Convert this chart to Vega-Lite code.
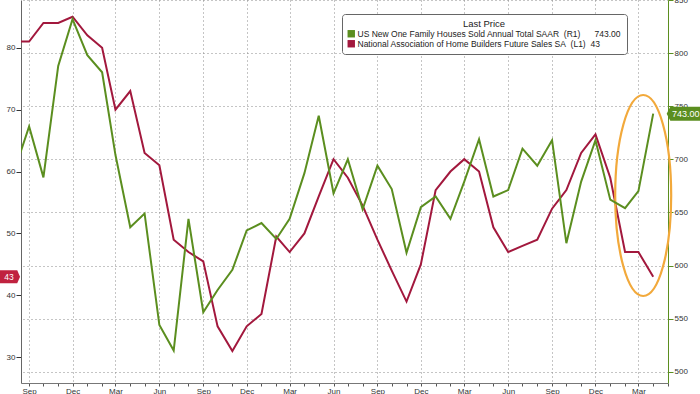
{
  "$schema": "https://vega.github.io/schema/vega-lite/v6.json",
  "width": 647,
  "height": 383,
  "autosize": {"type": "none"},
  "padding": {"left": 21, "top": 0, "right": 32, "bottom": 11},
  "background": "white",
  "config": {"view": {"stroke": null}, "font": "Liberation Sans"},
  "datasets": {
    "tags": [{"name": "nahb", "last": 43, "label": "43"}],
    "tags2": [{"name": "sales", "last": 743, "label": "743.00"}],
    "note": [{"note": "recent divergence"}]
  },
  "data": {"values": [
    {"date": "2021-08-01", "nahb": 81, "sales": 689},
    {"date": "2021-09-01", "nahb": 81, "sales": 731},
    {"date": "2021-10-01", "nahb": 84, "sales": 683},
    {"date": "2021-11-01", "nahb": 84, "sales": 788},
    {"date": "2021-12-01", "nahb": 85, "sales": 832},
    {"date": "2022-01-01", "nahb": 82, "sales": 798},
    {"date": "2022-02-01", "nahb": 80, "sales": 782},
    {"date": "2022-03-01", "nahb": 70, "sales": 704},
    {"date": "2022-04-01", "nahb": 73, "sales": 636},
    {"date": "2022-05-01", "nahb": 63, "sales": 649},
    {"date": "2022-06-01", "nahb": 61, "sales": 544},
    {"date": "2022-07-01", "nahb": 49, "sales": 520},
    {"date": "2022-08-01", "nahb": 47, "sales": 644},
    {"date": "2022-09-01", "nahb": 45.5, "sales": 556},
    {"date": "2022-10-01", "nahb": 35, "sales": 577},
    {"date": "2022-11-01", "nahb": 31, "sales": 596},
    {"date": "2022-12-01", "nahb": 35, "sales": 633},
    {"date": "2023-01-01", "nahb": 37, "sales": 640},
    {"date": "2023-02-01", "nahb": 49.5, "sales": 625},
    {"date": "2023-03-01", "nahb": 47, "sales": 644},
    {"date": "2023-04-01", "nahb": 50, "sales": 687},
    {"date": "2023-05-01", "nahb": 56, "sales": 741},
    {"date": "2023-06-01", "nahb": 62, "sales": 668},
    {"date": "2023-07-01", "nahb": 59, "sales": 700},
    {"date": "2023-08-01", "nahb": 54.5, "sales": 653},
    {"date": "2023-09-01", "nahb": 49, "sales": 694},
    {"date": "2023-10-01", "nahb": 44, "sales": 672},
    {"date": "2023-11-01", "nahb": 39, "sales": 612},
    {"date": "2023-12-01", "nahb": 45, "sales": 655},
    {"date": "2024-01-01", "nahb": 57, "sales": 665},
    {"date": "2024-02-01", "nahb": 60, "sales": 644},
    {"date": "2024-03-01", "nahb": 62, "sales": 679},
    {"date": "2024-04-01", "nahb": 60, "sales": 719},
    {"date": "2024-05-01", "nahb": 51, "sales": 665},
    {"date": "2024-06-01", "nahb": 47, "sales": 671},
    {"date": "2024-07-01", "nahb": 48, "sales": 710},
    {"date": "2024-08-01", "nahb": 49, "sales": 694},
    {"date": "2024-09-01", "nahb": 54, "sales": 718},
    {"date": "2024-10-01", "nahb": 57, "sales": 621},
    {"date": "2024-11-01", "nahb": 63, "sales": 679},
    {"date": "2024-12-01", "nahb": 66, "sales": 718},
    {"date": "2025-01-01", "nahb": 59, "sales": 662},
    {"date": "2025-02-01", "nahb": 47, "sales": 654},
    {"date": "2025-03-01", "nahb": 47, "sales": 670},
    {"date": "2025-04-01", "nahb": 43, "sales": 743}
  ]},
  "layer": [
    {
      "layer": [
        {
          "mark": {"type": "line", "strokeWidth": 2, "clip": true},
          "encoding": {
            "x": {
              "field": "date",
              "type": "temporal",
              "scale": {
                "type": "utc",
                "domain": [1628985600000, 1746144000000]
              },
              "axis": {
                "title": null,
                "tickCount": {"interval": "month", "step": 1},
                "labelExpr": "utcmonth(datum.value) % 3 === 2 ? utcFormat(datum.value, '%b') : ''",
                "labelOverlap": false,
                "labelFlush": false,
                "grid": true,
                "gridDash": [1, 3],
                "gridColor": "#8a8a8a",
                "gridOpacity": {"condition": {"test": "utcmonth(datum.value) % 3 === 2", "value": 1}, "value": 0},
                "tickSize": 3,
                "tickColor": "#555555",
                "domainColor": "#777777",
                "labelFontSize": 8,
                "labelColor": "#333333",
                "labelPadding": 1
              }
            },
            "y": {
              "field": "nahb",
              "type": "quantitative",
              "scale": {"domain": [25.85, 87.7], "nice": false, "zero": false},
              "axis": {
                "orient": "left",
                "title": null,
                "values": [30, 35, 40, 45, 50, 55, 60, 65, 70, 75, 80, 85],
                "labelExpr": "datum.value % 10 === 0 ? datum.label : ''",
                "grid": false,
                "tickSize": {"condition": {"test": "datum.value % 10 === 0", "value": 5}, "value": 3},
                "tickColor": "#333333",
                "domainColor": "#666666",
                "labelColor": "#333333",
                "labelFontSize": 8,
                "labelPadding": 1
              }
            },
            "color": {
              "datum": "National Association of Home Builders Future Sales SA\u00a0\u00a0(L1)",
              "type": "nominal",
              "scale": {
                "domain": [
                  "US New One Family Houses Sold Annual Total SAAR\u00a0\u00a0(R1)",
                  "National Association of Home Builders Future Sales SA\u00a0\u00a0(L1)"
                ],
                "range": ["#5b8e1f", "#a2183d"]
              },
              "legend": {
                "orient": "none",
                "legendX": 321,
                "legendY": 14,
                "title": "Last Price",
                "titleAnchor": "middle",
                "titleFontSize": 9.5,
                "titleFontWeight": "normal",
                "titleColor": "#222222",
                "titlePadding": 1,
                "labelFontSize": 8.5,
                "labelColor": "#222222",
                "labelLimit": 500,
                "labelOffset": 2,
                "labelExpr": "indexof(datum.label, '(R1)') >= 0 ? datum.label + '\u00a0\u00a0\u00a0\u00a0\u00a0\u00a0743.00' : datum.label + '\u00a0\u00a043'",
                "symbolType": "square",
                "symbolSize": 55,
                "symbolStrokeWidth": 0,
                "rowPadding": 1,
                "padding": 5,
                "fillColor": "white",
                "strokeColor": "#666666",
                "cornerRadius": 3,
                "encode": {"symbols": {"update": {"fill": {"scale": "color", "field": "value"}, "opacity": {"value": 1}}}}
              }
            }
          }
        },
        {
          "data": {"name": "note"},
          "mark": {
            "type": "point",
            "shape": "M -0.2786 0 A 0.2786 1 0 1 1 0.2786 0 A 0.2786 1 0 1 1 -0.2786 0 Z",
            "size": 40401,
            "filled": false,
            "stroke": "#f2a93b",
            "strokeWidth": 2.2,
            "opacity": 1
          },
          "encoding": {
            "x": {"datum": 1741651200000, "type": "temporal"},
            "y": {"datum": 56.13, "type": "quantitative"}
          }
        },
        {
          "data": {"name": "tags"},
          "mark": {
            "type": "point",
            "shape": "M -1 -0.65 L 0.72 -0.65 L 1 0 L 0.72 0.65 L -1 0.65 Z",
            "size": 400,
            "filled": true,
            "fill": "#c0223f",
            "strokeWidth": 0,
            "opacity": 1
          },
          "encoding": {
            "x": {"datum": 1626998400000, "type": "temporal"},
            "y": {"field": "last", "type": "quantitative"}
          }
        },
        {
          "data": {"name": "tags"},
          "mark": {"type": "text", "color": "white", "fontSize": 8.5, "align": "center", "baseline": "middle", "dx": -1},
          "encoding": {
            "x": {"datum": 1626998400000, "type": "temporal"},
            "y": {"field": "last", "type": "quantitative"},
            "text": {"field": "label"}
          }
        }
      ]
    },
    {
      "layer": [
        {
          "mark": {"type": "line", "strokeWidth": 2, "clip": true},
          "encoding": {
            "x": {"field": "date", "type": "temporal"},
            "y": {
              "field": "sales",
              "type": "quantitative",
              "scale": {"domain": [489.4, 850], "nice": false, "zero": false},
              "axis": {
                "orient": "right",
                "title": null,
                "values": [500, 525, 550, 575, 600, 625, 650, 675, 700, 725, 750, 775, 800, 825, 850],
                "labelExpr": "datum.value % 50 === 0 ? datum.label : ''",
                "grid": true,
                "gridDash": [1, 3],
                "gridColor": "#8a8a8a",
                "gridOpacity": {"condition": {"test": "datum.value % 50 === 0", "value": 1}, "value": 0},
                "tickSize": {"condition": {"test": "datum.value % 50 === 0", "value": 5}, "value": 3},
                "tickColor": "#5b8e1f",
                "domainColor": "#5b8e1f",
                "labelColor": "#333333",
                "labelFontSize": 8,
                "labelPadding": 1
              }
            },
            "color": {
              "datum": "US New One Family Houses Sold Annual Total SAAR\u00a0\u00a0(R1)",
              "type": "nominal"
            }
          }
        },
        {
          "data": {"name": "tags2"},
          "mark": {
            "type": "point",
            "shape": "M -1 0 L -0.8 -0.39 L 1 -0.39 L 1 0.39 L -0.8 0.39 Z",
            "size": 1296,
            "filled": true,
            "fill": "#5b8e1f",
            "strokeWidth": 0,
            "opacity": 1
          },
          "encoding": {
            "x": {"datum": 1749168000000, "type": "temporal"},
            "y": {"field": "last", "type": "quantitative"}
          }
        },
        {
          "data": {"name": "tags2"},
          "mark": {"type": "text", "color": "white", "fontSize": 9, "align": "center", "baseline": "middle", "dx": 1},
          "encoding": {
            "x": {"datum": 1749168000000, "type": "temporal"},
            "y": {"field": "last", "type": "quantitative"},
            "text": {"field": "label"}
          }
        }
      ]
    }
  ],
  "resolve": {"scale": {"y": "independent"}, "axis": {"y": "independent"}}
}
